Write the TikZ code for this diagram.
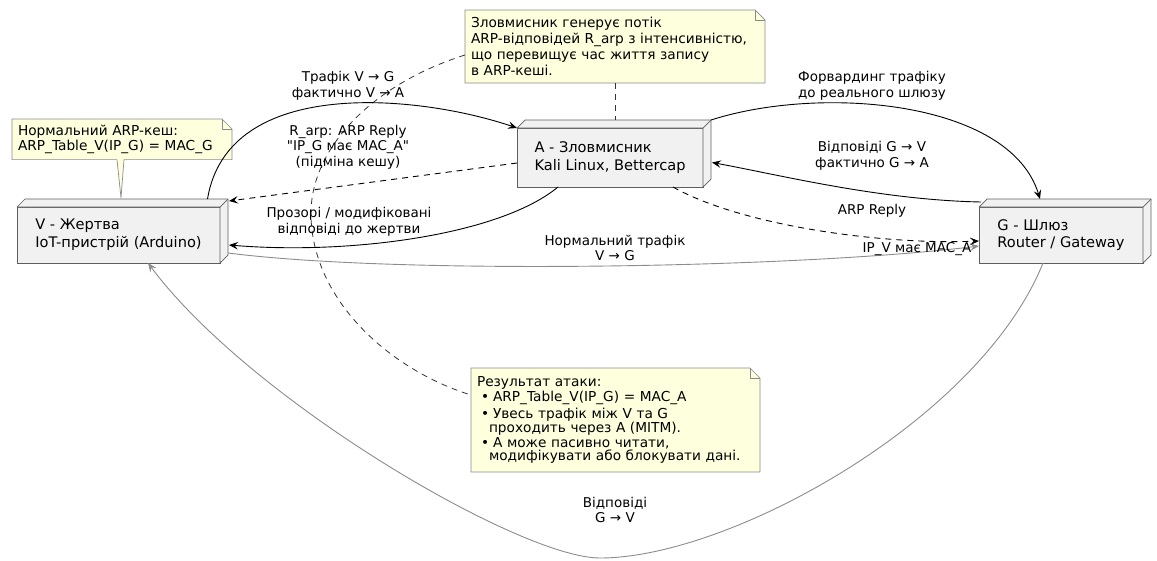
\documentclass[tikz,border=0pt]{standalone}
\usepackage{fontspec}
\newfontfamily\diagfont{DejaVu Sans}
\usetikzlibrary{arrows.meta}
\pgfdeclarelayer{paper}
\pgfsetlayers{paper,main}

\definecolor{boxfill}{HTML}{F1F1F1}
\definecolor{boxline}{HTML}{5E5E5E}
\definecolor{memofill}{HTML}{FEFFDD}
\definecolor{memoline}{HTML}{8A8A8A}
\definecolor{quietline}{HTML}{8C8C8C}

\begin{document}
\begin{tikzpicture}[x=1pt, y=-1pt,
  machine/.style={draw=boxline, fill=boxfill, line width=0.7pt, inner sep=0pt, outer sep=0pt,
    align=left, font=\diagfont\fontsize{14.6}{17.8}\selectfont},
  boxface/.style={draw=boxline, fill=boxfill, line width=0.7pt, line join=round},
  memo/.style={inner sep=6pt, outer sep=0pt, align=left, anchor=north west,
    font=\diagfont\fontsize{13.7}{16}\selectfont},
  memoshape/.style={draw=memoline, fill=memofill, line width=0.7pt, line join=round},
  lbl/.style={align=center, inner sep=0pt, font=\diagfont\fontsize{13.5}{15.5}\selectfont},
  arrowtip/.style={-{Stealth[length=9pt,width=7.5pt,inset=3.5pt]}},
  flow/.style={draw=black, line width=0.9pt, arrowtip},
  quiet/.style={draw=quietline, line width=0.9pt, arrowtip},
  dashflow/.style={flow, dash pattern=on 6pt off 5pt},
  memolink/.style={draw=black!80, line width=0.8pt, dash pattern=on 6pt off 5pt},
]
\useasboundingbox (0,0) rectangle (1157,560);

% hosts
\node[machine, minimum width=203pt, minimum height=56pt] (V) at (118.5,235) {V - Жертва\\IoT-пристрій (Arduino)};
\node[machine, minimum width=186pt, minimum height=59pt] (A) at (610,157.5) {A - Зловмисник\\Kali Linux, Bettercap};
\node[machine, minimum width=164pt, minimum height=56pt] (G) at (1061,235) {G - Шлюз\\Router / Gateway};

% 3D top and side faces of the hosts
\foreach \n in {V,A,G}{
  \draw[boxface] (\n.north west) -- ([xshift=8pt,yshift=8pt]\n.north west)
    -- ([xshift=8pt,yshift=8pt]\n.north east) -- ([xshift=8pt,yshift=8pt]\n.south east)
    -- (\n.south east) -- (\n.north east) -- cycle;
  \draw[boxface, fill=none] (\n.north east) -- ([xshift=8pt,yshift=8pt]\n.north east);
}

% notes
\node[memo, inner xsep=6pt, text width=288pt, minimum height=73pt] (N1) at (465,10)
  {Зловмисник генерує потік\\ARP-відповідей R\_arp з інтенсивністю,\\що перевищує час життя запису\\в ARP-кеші.};
\node[memo, inner xsep=6pt, text width=208pt, minimum height=37pt, font=\diagfont\fontsize{13.7}{15}\selectfont] (N2) at (12,119)
  {Нормальний ARP-кеш:\\ARP\_Table\_V(IP\_G) = MAC\_G};
\node[memo, inner xsep=6pt, text width=277pt, minimum height=104pt, font=\diagfont\fontsize{13.7}{12.8}\selectfont] (N3) at (471,368)
  {Результат атаки:\\[1pt]
   \hspace*{4pt}•\hspace{4pt}ARP\_Table\_V(IP\_G) = MAC\_A\\[1.5pt]
   \hspace*{4pt}•\hspace{4pt}Увесь трафік між V та G\\
   \hspace*{12pt}проходить через A (MITM).\\[1.5pt]
   \hspace*{4pt}•\hspace{4pt}A може пасивно читати,\\
   \hspace*{12pt}модифікувати або блокувати дані.};

\coordinate (N2tip) at ([xshift=2.5pt,yshift=9pt]V.north);

\begin{pgfonlayer}{paper}
  \foreach \m in {N1,N3}{
    \draw[memoshape] (\m.north west) -- ([xshift=-10pt]\m.north east) -- ([yshift=-10pt]\m.north east)
      -- (\m.south east) -- (\m.south west) -- cycle;
    \draw[memoshape, fill=none] ([xshift=-10pt]\m.north east) -- ([xshift=-10pt,yshift=-10pt]\m.north east)
      -- ([yshift=-10pt]\m.north east);
  }
  \draw[memoshape] (N2.north west) -- ([xshift=-10pt]N2.north east) -- ([yshift=-10pt]N2.north east)
    -- (N2.south east) -- ([xshift=112pt]N2.south west) -- (N2tip) -- ([xshift=105pt]N2.south west)
    -- (N2.south west) -- cycle;
  \draw[memoshape, fill=none] ([xshift=-10pt]N2.north east) -- ([xshift=-10pt,yshift=-10pt]N2.north east)
    -- ([yshift=-10pt]N2.north east);
\end{pgfonlayer}

% note links
\draw[memolink] (N1.south) -- ([xshift=5pt,yshift=8pt]A.north);
\draw[memolink] ([yshift=-8.5pt]N1.west) .. controls (370,85) and (310,150) .. (311,215)
  .. controls (312,300) and (390,370) .. ([yshift=25pt]N3.west);

% traffic
\draw[flow] ([xshift=89pt,yshift=8pt]V.north) .. controls (228,75) and (420,95) .. (A.north west);
\draw[dashflow] ([yshift=-5.5pt]A.west) -- ([xshift=9pt,yshift=6pt]V.north east);
\draw[flow] ([xshift=-52pt]A.south) .. controls (500,235) and (350,255) .. ([xshift=9pt,yshift=-10pt]V.east);
\draw[quiet] ([xshift=8pt,yshift=-18pt]V.east) .. controls (400,275) and (800,268) .. ([yshift=-11pt]G.west);
\draw[dashflow] ([xshift=63pt]A.south) .. controls (740,225) and (880,245) .. ([yshift=-6pt]G.west);
\draw[flow] ([xshift=8pt,yshift=8pt]A.north east) .. controls (820,85) and (1010,100) .. ([xshift=-21pt,yshift=8pt]G.north);
\draw[flow] ([xshift=2pt,yshift=5pt]G.north west) .. controls (880,200) and (780,175) .. ([xshift=9pt,yshift=-5pt]A.east);
\draw[quiet] ([xshift=-18pt]G.south) .. controls (980,420) and (730,558) .. (600,558)
  .. controls (520,558) and (250,400) .. ([xshift=29.5pt]V.south);

% edge labels
\node[lbl] (l1) at (348,86) {Трафік V → G\\фактично V → A};
\node[lbl] (l2) at (348,147) {R\_arp: ARP Reply\\"IP\_G має MAC\_A"\\(підміна кешу)};
\node[lbl] (l3) at (349,222) {Прозорі / модифіковані\\відповіді до жертви};
\node[lbl] (l4) at (615,248) {Нормальний трафік\\V → G};
\node[lbl] (l5) at (872,86) {Форвардинг трафіку\\до реального шлюзу};
\node[lbl] (l6) at (872,156) {Відповіді G → V\\фактично G → A};
\node[lbl] (l7) at (872,211) {ARP Reply};
\node[lbl] (l8) at (917,249) {IP\_V має MAC\_A};
\node[lbl] (l9) at (615,510) {Відповіді\\G → V};
\end{tikzpicture}
\end{document}
